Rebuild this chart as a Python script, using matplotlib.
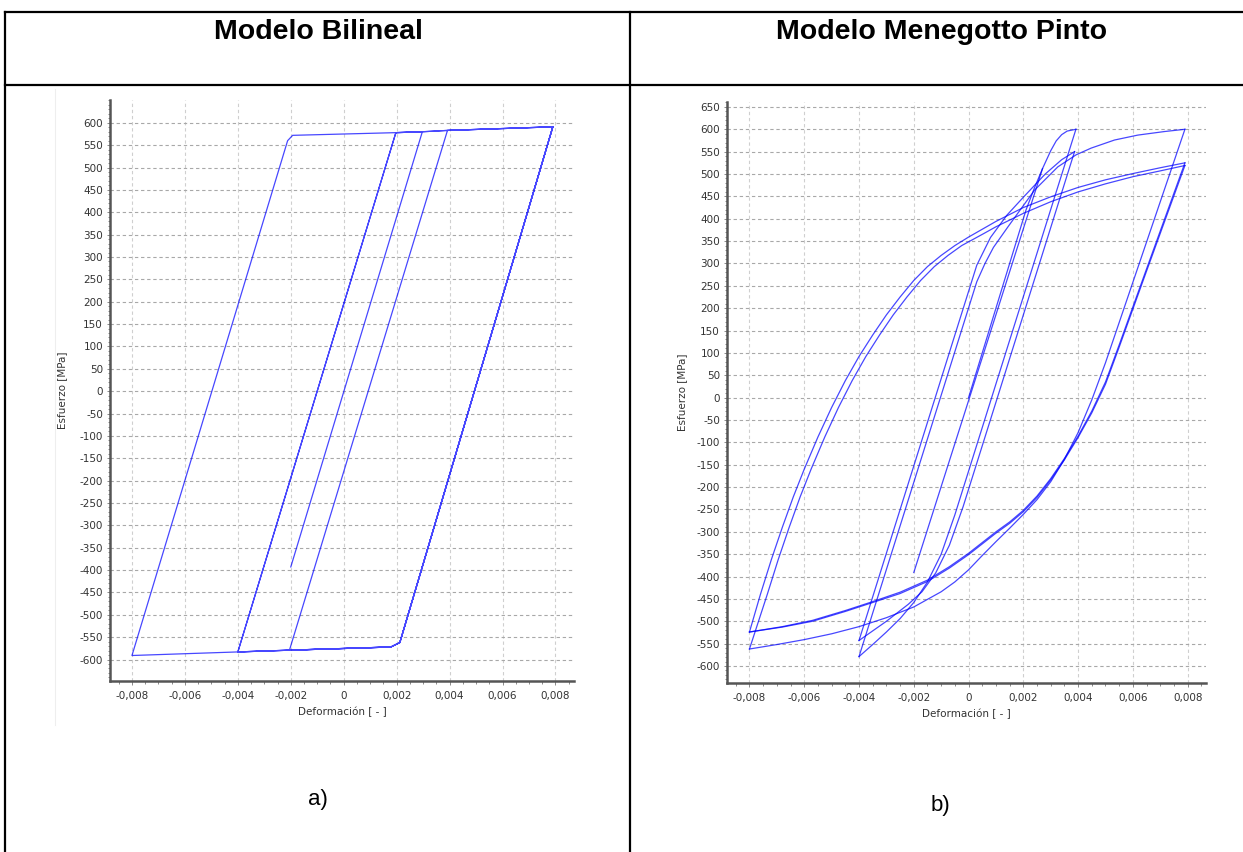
import matplotlib
matplotlib.use('Agg')
import matplotlib.pyplot as plt
from matplotlib.lines import Line2D
from matplotlib.ticker import MultipleLocator, FixedLocator, FuncFormatter

plt.rcParams['axes.unicode_minus'] = False
plt.rcParams['font.family'] = ['DejaVu Sans']

W, H = 1243, 852

# ---------------------------------------------------------------- data
# a) Modelo Bilineal : one continuous strain-stress path
bil_strain = [0.0079, 0.00212, 0.00178, -0.00205, 0.00392, 0.0079, 0.00212, 0.00178,
              -0.002, -0.004, 0.00197, 0.00297, 0.00392, 0.0079, 0.00212, 0.00178,
              -0.002, -0.004, -0.008, -0.00212, -0.00193, 0.00197, 0.00297, 0.00392,
              0.0079, 0.00212, 0.00178, -0.002, -0.004, 0.00197, 0.00297, -0.002]
bil_stress = [591, -562, -572, -579, 583, 591, -562, -572,
              -579, -583, 578, 580, 583, 591, -562, -572,
              -579, -583, -591, 560, 572, 578, 580, 583,
              591, -562, -572, -579, -583, 578, 580, -393]

# b) Modelo Menegotto Pinto : branches
mp_ini_x = [0.0, 0.0021, 0.0024, 0.0027, 0.003, 0.0032, 0.0034, 0.0036, 0.00392]
mp_ini_y = [0, 420, 468, 512, 552, 574, 588, 596, 600]

mp_r1_x = [0.00392, 0.00093, -0.0005, -0.001, -0.0015, -0.002, -0.0025, -0.003, -0.0035, -0.004]
mp_r1_y = [600, 17, -262, -350, -412, -458, -494, -524, -552, -579]

mp_p1_x = [-0.004, -0.00094, 0.0003, 0.0006, 0.00091, 0.00144, 0.00241, 0.00326, 0.00393,
           0.00448, 0.00533, 0.00618, 0.00716, 0.0079]
mp_p1_y = [-579, 17, 259, 300, 336, 382, 464, 516, 543, 558, 576, 587, 595, 600]

mp_d3_x = [0.0079, 0.0065, 0.0055, 0.005, 0.0045, 0.004, 0.0035, 0.003, 0.0025, 0.002,
           0.0015, 0.001, 0.0005, 0.0, -0.0005, -0.001, -0.002, -0.003, -0.004, -0.005,
           -0.006, -0.007, -0.008]
mp_d3_y = [600, 348, 168, 78, -5, -78, -138, -188, -228, -261, -292, -322, -353, -385,
           -412, -434, -468, -492, -512, -528, -541, -552, -562]

mp_m2_x = [-0.008, -0.00735, -0.00695, -0.00655, -0.00615, -0.00575, -0.00525, -0.00475,
           -0.00425, -0.00375, -0.00325, -0.00275, -0.00225, -0.00175, -0.00125, -0.00075,
           -0.00025, 0.0005, 0.001, 0.002, 0.003, 0.004, 0.005, 0.006, 0.007, 0.0079]
mp_m2_y = [-562, -440, -362, -290, -222, -160, -88, -22, 38, 92, 140, 185, 225, 262, 293,
           318, 340, 365, 382, 412, 438, 460, 478, 494, 507, 519]

mp_m1_x = [-0.008, -0.0076, -0.0072, -0.0068, -0.0064, -0.006, -0.0055, -0.005, -0.0045,
           -0.004, -0.0035, -0.003, -0.0025, -0.002, -0.0015, -0.001, -0.0005, 0.0, 0.001,
           0.002, 0.003, 0.004, 0.005, 0.006, 0.007, 0.0079]
mp_m1_y = [-524, -440, -362, -290, -222, -160, -88, -22, 38, 92, 140, 185, 225, 262, 293,
           318, 340, 359, 394, 425, 449, 470, 487, 501, 514, 525]

mp_d1_x = [0.0079, 0.0065, 0.0055, 0.005, 0.0045, 0.004, 0.0035, 0.003, 0.0025, 0.002,
           0.0015, 0.001, 0.0005, 0.0, -0.0007, -0.0015, -0.0025, -0.0035, -0.0045, -0.0057,
           -0.0068, -0.008]
mp_d1_y = [525, 288, 118, 35, -30, -86, -136, -181, -220, -252, -278, -300, -324, -348,
           -378, -408, -435, -456, -476, -498, -512, -524]

mp_d2_x = [0.0079, 0.0065, 0.0055, 0.005, 0.0045, 0.004, 0.0035, 0.003, 0.0025, 0.002,
           0.0015, 0.001, 0.0005, 0.0, -0.0007, -0.0015, -0.0025, -0.0035, -0.0045, -0.0057,
           -0.0068, -0.008]
mp_d2_y = [519, 283, 113, 30, -34, -89, -139, -184, -223, -255, -281, -303, -327, -351,
           -381, -411, -438, -458, -478, -500, -513, -524]

mp_p2_x = [-0.004, -0.00113, 0.0003, 0.0008, 0.0014, 0.002, 0.0028, 0.0034, 0.00387]
mp_p2_y = [-543, 17, 296, 358, 408, 448, 500, 532, 550]

mp_r2_x = [0.00387, 0.00114, -0.0002, -0.0007, -0.0012, -0.0017, -0.0022, -0.003, -0.004]
mp_r2_y = [550, 17, -244, -330, -392, -434, -462, -500, -543]

mp_fin_x = [0.0027, -0.002]
mp_fin_y = [512, -391]

x_ticks = [-0.008, -0.006, -0.004, -0.002, 0.0, 0.002, 0.004, 0.006, 0.008]
y_ticks_a = list(range(-600, 601, 50))
y_ticks_b = list(range(-600, 651, 50))


# ---------------------------------------------------------------- helpers
def px_axes(x0, y0, x1, y1):
    return [x0 / W, 1 - y1 / H, (x1 - x0) / W, (y1 - y0) / H]


def fmt_x(v, pos):
    if abs(v) < 1e-9:
        return '0'
    return ('%.3f' % v).replace('.', ',')


def style_axes(ax, yticks, ypad):
    for s in ['top', 'right']:
        ax.spines[s].set_visible(False)
    for s in ['left', 'bottom']:
        ax.spines[s].set_color('#555555')
        ax.spines[s].set_linewidth(1.8)
    ax.xaxis.set_major_locator(FixedLocator(x_ticks))
    ax.xaxis.set_minor_locator(MultipleLocator(0.0005))
    ax.yaxis.set_major_locator(FixedLocator(yticks))
    ax.yaxis.set_minor_locator(MultipleLocator(10))
    ax.xaxis.set_major_formatter(FuncFormatter(fmt_x))
    ax.yaxis.set_major_formatter(FuncFormatter(lambda v, p: '%d' % round(v)))
    ax.tick_params(axis='both', which='both', colors='#777777', labelcolor='#333333',
                   labelsize=7.5, width=0.6)
    ax.tick_params(axis='x', which='major', length=3, pad=4)
    ax.tick_params(axis='x', which='minor', length=2)
    ax.tick_params(axis='y', which='major', length=2, pad=3)
    ax.tick_params(axis='y', which='minor', length=1.5)
    ax.grid(axis='y', which='major', color='#a8a8a8', linestyle=(0, (3, 2.5)), linewidth=0.8)
    ax.grid(axis='x', which='major', color='#cfcfcf', linestyle=(0, (3, 2.5)), linewidth=0.8)
    ax.set_axisbelow(True)
    ax.set_xlabel('Deformación [ - ]', fontsize=7.5, color='#333333', labelpad=4)
    ax.set_ylabel('Esfuerzo [MPa]', fontsize=7.5, color='#333333', labelpad=ypad)


line_kw = dict(color='#0000ff', linewidth=0.9, alpha=0.72, solid_joinstyle='round')

fig = plt.figure(figsize=(W / 100, H / 100), dpi=100)

# ---------------------------------------------------------------- a) bilineal
ax1 = fig.add_axes(px_axes(110, 100, 574, 681))
ax1.plot(bil_strain, bil_stress, **line_kw)
ax1.set_xlim(-0.00883, 0.0087)
ax1.set_ylim(-648, 651)
style_axes(ax1, y_ticks_a, 9)

# ---------------------------------------------------------------- b) Menegotto Pinto
ax2 = fig.add_axes(px_axes(727, 102, 1206, 683))
for bx, by in [(mp_ini_x, mp_ini_y), (mp_r1_x, mp_r1_y), (mp_p1_x, mp_p1_y),
               (mp_d3_x, mp_d3_y), (mp_m2_x, mp_m2_y), (mp_d2_x, mp_d2_y),
               (mp_m1_x, mp_m1_y), (mp_d1_x, mp_d1_y), (mp_p2_x, mp_p2_y),
               (mp_r2_x, mp_r2_y), (mp_fin_x, mp_fin_y)]:
    ax2.plot(bx, by, **line_kw)
ax2.set_xlim(-0.00882, 0.00867)
ax2.set_ylim(-638, 661)
style_axes(ax2, y_ticks_b, 7)

# ---------------------------------------------------------------- table frame
def fig_line(x0, y0, x1, y1, color='black', lw=1.6):
    fig.add_artist(Line2D([x0 / W, x1 / W], [1 - y0 / H, 1 - y1 / H],
                          transform=fig.transFigure, color=color, linewidth=lw))

fig_line(5, 12, W, 12)
fig_line(5, 84.5, W, 84.5)
fig_line(5, 12, 5, H)
fig_line(630, 12, 630, H)
fig_line(55, 89, 55, 725, color='#eeeeee', lw=0.8)

fig.text(318 / W, 1 - 32 / H, 'Modelo Bilineal', ha='center', va='center',
         fontsize=20.5, fontweight='bold', family='Liberation Sans')
fig.text(942 / W, 1 - 32 / H, 'Modelo Menegotto Pinto', ha='center', va='center',
         fontsize=20.5, fontweight='bold', family='Liberation Sans')
fig.text(318 / W, 1 - 800 / H, 'a)', ha='center', va='center', fontsize=16,
         family='Liberation Sans')
fig.text(940 / W, 1 - 805 / H, 'b)', ha='center', va='center', fontsize=16,
         family='Liberation Sans')

fig.savefig('out.png', dpi=100)
